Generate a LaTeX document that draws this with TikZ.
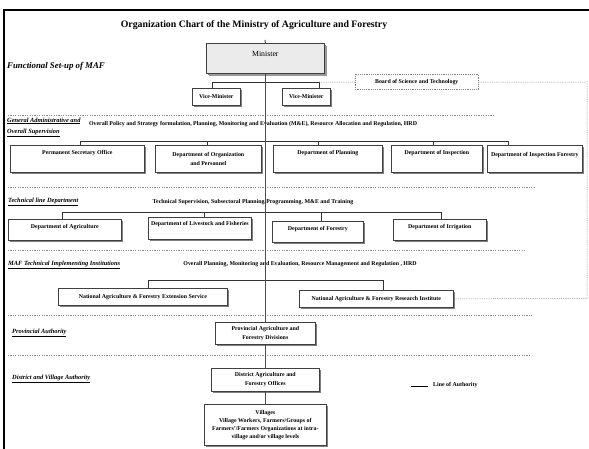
\documentclass[tikz,border=0pt]{standalone}
\usepackage{fontspec}
\setmainfont{Liberation Serif}
\usetikzlibrary{shadows}

\newcommand{\chartfont}{\fontsize{5.9}{8.7}\selectfont\bfseries}
\newcommand{\seclabelfont}{\fontsize{6.4}{11}\selectfont\bfseries\itshape}

\begin{document}
\begin{tikzpicture}[x=1pt, y=-1pt,
    unit/.style={draw=black!75, line width=0.7pt, fill=white, font=\chartfont, align=center,
        inner sep=2pt, anchor=north west,
        drop shadow={shadow xshift=1.4pt, shadow yshift=-1.4pt, fill=black!50, opacity=1}},
    advisorybox/.style={draw=black!50, line width=0.5pt, dash pattern=on 1.2pt off 1pt,
        font=\chartfont, inner sep=2pt, anchor=north west},
    seclabel/.style={font=\seclabelfont, anchor=west, align=left, inner sep=0pt},
    remit/.style={font=\chartfont, inner sep=0pt},
    authority/.style={draw=black!70, line width=1pt},
    bracket/.style={draw=black!80, line width=0.8pt},
    divider/.style={draw=black!45, line width=0.6pt, dash pattern=on 1.2pt off 1.2pt},
    advisory/.style={draw=black!45, line width=0.5pt, dash pattern=on 1.2pt off 1pt}]
    \useasboundingbox (0,0) rectangle (589,449);
    \draw[line width=2.5pt] (4,449) -- (4,10) -- (589,10);

    % Title and minister (Top)
    \node[font=\fontsize{9.8}{11}\selectfont\bfseries] (title) at (254,25) {Organization Chart of the Ministry of Agriculture and Forestry};
    \node[font=\fontsize{8.8}{10}\selectfont\bfseries\itshape, anchor=west, inner sep=0pt] (setup) at (7,66) {Functional Set-up of MAF};
    \node[unit, fill=black!8, font=\fontsize{7.8}{9}\selectfont, minimum width=118pt, inner sep=3pt,
        text height=10.5pt, text depth=13.5pt,
        drop shadow={shadow xshift=3pt, shadow yshift=-3pt, fill=black!40, opacity=1}] (minister) at (206,43) {Minister};
    \node[unit, minimum width=48pt, minimum height=17pt] (vmL) at (192,88) {Vice-Minister};
    \node[unit, minimum width=48pt, minimum height=17pt] (vmR) at (282,88) {Vice-Minister};
    \node[advisorybox, minimum width=123pt, minimum height=15pt] (board) at (355,74.5) {Board of Science and Technology};

    \coordinate (vbL) at (212,82);
    \coordinate (vbR) at (319,82);
    \draw[bracket] (vmL.north -| vbL) -- (vbL) -- (vbR) -- (vmR.north -| vbR);

    % General administrative level
    \draw[divider] (8,115) -- (495,115);
    \node[seclabel] (genlabel) at (7,127) {\underline{General Administrative and}\\\underline{Overall Supervision}};
    \node[remit] (genremit) at (253,124) {Overall Policy and Strategy formulation, Planning, Monitoring and Evaluation (M\&E), Resource Allocation and Regulation, HRD};

    \node[unit, minimum width=134pt, text height=7.5pt, text depth=15.5pt] (pso) at (10,145) {Permanent Secretary Office};
    \node[unit, minimum width=106pt, minimum height=27pt] (org) at (155,145) {Department of Organization\\and Personnel};
    \node[unit, minimum width=109pt, text height=7.5pt, text depth=15.5pt] (plan) at (273,145) {Department of Planning};
    \node[unit, minimum width=91pt, text height=7.5pt, text depth=15.5pt] (insp) at (391,145) {Department of Inspection};
    \node[unit, minimum width=95pt, inner xsep=1pt, text height=9pt, text depth=14pt] (inspf) at (487,145) {Department of Inspection Forestry};

    \draw[bracket] (pso.north -| 80,141) -- (80,141) -- (508,141) -- (inspf.north -| 508,141);
    \foreach \n/\x in {org/207, plan/318, insp/433}
        \draw[bracket] (\x,141) -- (\n.north -| \x,141);

    % Technical line departments
    \draw[divider] (8,187) -- (535,187);
    \node[seclabel] (techlabel) at (8,202) {\underline{Technical line Department}};
    \node[remit] (techremit) at (253,202) {Technical Supervision, Subsectoral Planning/Programming, M\&E and Training};

    \node[unit, minimum width=113pt, text height=7pt, text depth=10pt] (agri) at (8,219) {Department of Agriculture};
    \node[unit, minimum width=103pt, text height=6pt, text depth=12pt] (live) at (148,217) {Department of Livestock and Fisheries};
    \node[unit, minimum width=91pt, text height=7pt, text depth=10pt] (fore) at (272,221) {Department of Forestry};
    \node[unit, minimum width=93pt, text height=7pt, text depth=10pt] (irr) at (393,219) {Department of Irrigation};

    \draw[bracket] (agri.north -| 62,212) -- (62,212) -- (441,212) -- (irr.north -| 441,212);
    \foreach \n/\x in {live/204, fore/321}
        \draw[bracket] (\x,212) -- (\n.north -| \x,212);

    % Implementing institutions
    \draw[divider] (8,250) -- (526,250);
    \node[seclabel] (maflabel) at (8,265) {\underline{MAF Technical Implementing Institutions}};
    \node[remit] (mafremit) at (300,264) {Overall Planning, Monitoring and Evaluation, Resource Management and Regulation , HRD};

    \node[unit, minimum width=169pt, minimum height=17pt] (ext) at (58,288) {National Agriculture \& Forestry Extension Service};
    \node[unit, minimum width=154pt, minimum height=17pt] (research) at (299,290) {National Agriculture \& Forestry Research Institute};

    \draw[bracket] (ext.north -| 148,280) -- (148,280) -- (383,280) -- (research.north -| 383,280);

    \coordinate (edgeNE) at (587,82);
    \coordinate (edgeSE) at (587,298.5);
    \draw[advisory] (vbR) -- (board.west);
    \draw[advisory] (board.east) -- (edgeNE) -- (edgeSE) -- (research.east);

    % Provincial, district and village
    \draw[divider] (8,315) -- (533,315);
    \node[seclabel] (provlabel) at (12,333) {\underline{Provincial Authority}};
    \node[unit, minimum width=100pt, minimum height=22pt] (prov) at (215,322) {Provincial Agriculture and\\Forestry Divisions};

    \draw[divider] (8,355) -- (529,355);
    \node[seclabel] (distlabel) at (12,379) {\underline{District and Village Authority}};
    \node[unit, minimum width=108pt, minimum height=23pt] (dist) at (211,368) {District Agriculture and\\Forestry Offices};
    \node[unit, minimum width=122pt, minimum height=41pt, font=\fontsize{5.9}{8}\selectfont\bfseries] (villages) at (204,404)
        {Villages\\Village Workers, Farmers/Groups of\\Farmers'/Farmers Organizations at intra-\\village and/or village levels};

    % Line of authority
    \coordinate (mintop) at (265,40);
    \draw[authority] (mintop) -- (minister.north);
    \draw[authority] (minister.south) -- (prov.north);
    \draw[authority] (prov.south) -- (dist.north);
    \draw[authority] (dist.south) -- (villages.north);

    \coordinate (legA) at (411,386);
    \coordinate (legB) at (428,386);
    \node[remit, anchor=west] (legtxt) at (433,385) {Line of Authority};
    \draw[authority, draw=black] (legA) -- (legB);
\end{tikzpicture}
\end{document}
